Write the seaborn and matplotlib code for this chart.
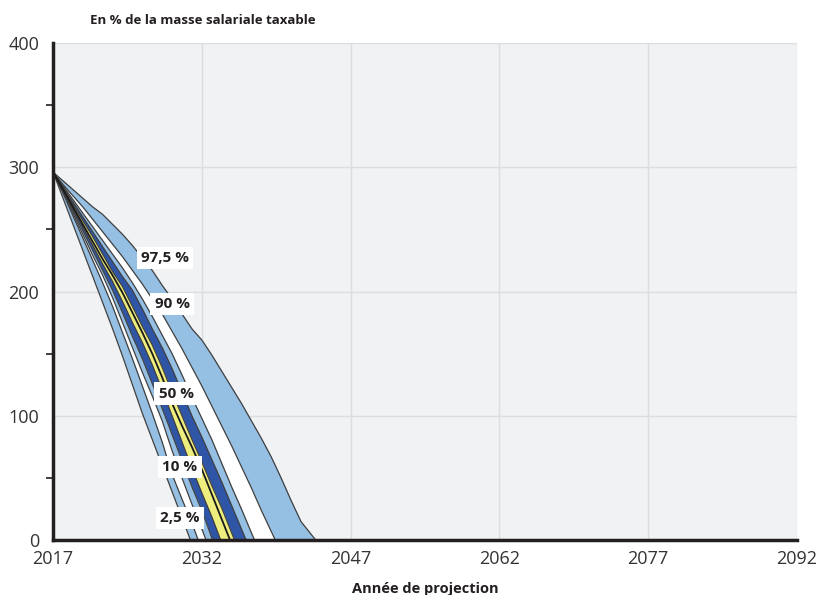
import numpy as np
import pandas as pd
import matplotlib
matplotlib.use("Agg")
import matplotlib.pyplot as plt
import seaborn as sns

# Projection years and percentile paths (en % de la masse salariale taxable)
years = list(range(2017, 2045))
p2_5 = [296, 275, 254, 233, 212, 191, 170, 148, 125, 102, 81, 60, 39, 18, -3]
p5 = [296, 279, 261, 243, 225, 207, 188, 167, 146, 124, 102, 79, 53, 33, 14, -8]
p10 = [296, 280, 263, 246, 229, 213, 195, 175, 155, 135, 116, 96, 72, 50, 29, 9, -12]
p25 = [296, 281, 265, 249, 233, 217, 201, 183, 164, 146, 126, 106, 85, 64, 43, 24, 2, -20]
p40 = [296, 282, 267, 252, 237, 222, 208, 192, 175, 159, 141, 121, 100, 79, 58, 38, 19, -2]
p50 = [296, 282, 268, 254, 240, 226, 213, 199, 183, 167, 150, 131, 110, 92, 75, 57, 37, 17, -3]
p60 = [296, 283, 270, 257, 244, 230, 216, 204, 188, 172, 157, 139, 119, 100, 81, 63, 44, 26, 6, -14]
p75 = [296, 284, 272, 260, 248, 236, 224, 212, 201, 186, 170, 155, 138, 119, 100, 83, 65, 47, 28, 9, -10]
p90 = [296, 285, 274, 263, 252, 241, 230, 219, 207, 194, 180, 165, 150, 133, 115, 98, 81, 62, 43, 25, 6, -13]
p95 = [296, 286, 277, 268, 258, 248, 238, 228, 217, 206, 194, 182, 168, 154, 139, 124, 108, 92, 76, 59, 42, 24, 7, -10]
p97_5 = [296, 289, 282, 275, 268, 262, 254, 246, 237, 227, 217, 205, 194, 182, 170, 161, 149, 136, 123, 110, 96, 82, 67, 50, 32, 15, 5, -5]

# labels and where they sit (year, value)
label_text = ["97,5 %", "90 %", "50 %", "10 %", "2,5 %"]
label_x = [2028.3, 2029.0, 2029.4, 2029.8, 2029.8]
label_y = [227, 190, 118, 59, 18]

x_ticks = [2017, 2032, 2047, 2062, 2077, 2092]
y_ticks = [0, 100, 200, 300, 400]


def pad(v):
    # once the fund is exhausted the ratio stays at 0
    return v + [0] * (len(years) - len(v))


series = {
    "2.5": pad(p2_5), "5": pad(p5), "10": pad(p10), "25": pad(p25),
    "40": pad(p40), "50": pad(p50), "60": pad(p60), "75": pad(p75),
    "90": pad(p90), "95": pad(p95), "97.5": pad(p97_5),
}
df = pd.DataFrame(series, index=years)
df.index.name = "year"

light = "#95bfe3"
dark = "#2f56a6"
yellow = "#eeee7f"
band_colors = [light, "white", light, dark, yellow, yellow, dark, light, "white", light]

sns.set_theme(style="white")
plt.rcParams["font.family"] = ["Open Sans", "DejaVu Sans"]

fig, ax = plt.subplots(figsize=(8.3, 5.95), dpi=100)
fig.subplots_adjust(left=0.064, right=0.960, bottom=0.092, top=0.928)
ax.set_facecolor("#f1f2f4")

cols = list(df.columns)
for i, c in enumerate(band_colors):
    ax.fill_between(df.index, df[cols[i]], df[cols[i + 1]], color=c,
                    linewidth=0, zorder=2)

long = df.reset_index().melt(id_vars="year", var_name="pct", value_name="val")
edges = long[long["pct"] != "50"]
sns.lineplot(data=edges, x="year", y="val", units="pct", estimator=None,
             color="#3f3f3f", linewidth=0.9, ax=ax, zorder=3)
sns.lineplot(data=long[long["pct"] == "50"], x="year", y="val",
             color="#1a1a1a", linewidth=1.3, ax=ax, zorder=4)

for t, x, y in zip(label_text, label_x, label_y):
    ax.text(x, y, t, ha="center", va="center", fontsize=11, fontweight="bold",
            color="#231f20", zorder=5,
            bbox=dict(boxstyle="square,pad=0.28", fc="white", ec="none"))

ax.set_xlim(2017, 2092)
ax.set_ylim(0, 400)
ax.set_xticks(x_ticks)
ax.set_yticks(y_ticks)
ax.set_yticks([50, 150, 250, 350], minor=True)
ax.grid(True, which="major", color="#dcdde0", linewidth=1, zorder=1)
ax.set_axisbelow(True)
ax.tick_params(axis="both", which="major", length=0, labelsize=13,
               labelcolor="#333333")
ax.tick_params(axis="x", which="major", pad=7)
ax.tick_params(axis="y", which="major", pad=10)
ax.tick_params(axis="y", which="minor", length=5, width=1.2, color="#231f20",
               left=True)
for s in ["top", "right"]:
    ax.spines[s].set_visible(False)
for s in ["left", "bottom"]:
    ax.spines[s].set_color("#231f20")
    ax.spines[s].set_linewidth(2.5)
    ax.spines[s].set_zorder(6)

ax.set_xlabel("Année de projection", fontsize=10.5, fontweight="bold",
              color="#231f20", labelpad=10)
ax.set_ylabel("")
fig.text(0.108, 0.966, "En % de la masse salariale taxable", fontsize=9.5,
         fontweight="bold", color="#231f20", va="center")

fig.savefig("out.png", dpi=100)
